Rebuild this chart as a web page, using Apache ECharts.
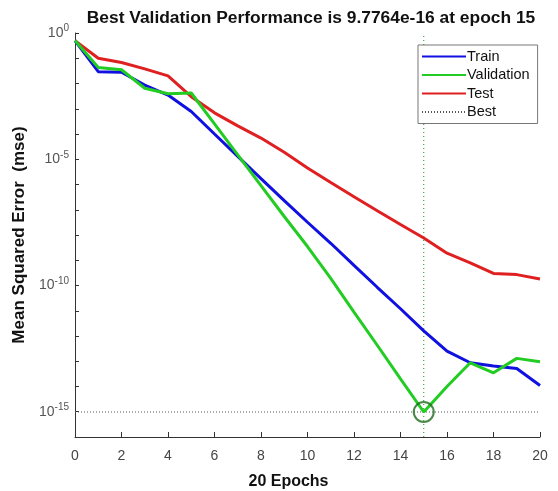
<!DOCTYPE html>
<html>
<head>
<meta charset="utf-8">
<script src="https://cdn.jsdelivr.net/npm/echarts@6/dist/echarts.min.js"></script>
<style>html,body{margin:0;padding:0;background:#fff;}#c{width:558px;height:491px;}</style>
</head>
<body>
<div id="c"></div>
<script>
const epochs = [0,1,2,3,4,5,6,7,8,9,10,11,12,13,14,15,16,17,18,19,20];
const train = [0.5,2.95e-2,2.8e-2,8.7e-3,3.5e-3,7.8e-4,1.0e-4,1.3e-5,1.7e-6,2.3e-7,3.2e-8,4.7e-9,6.3e-10,8.5e-11,1.2e-11,1.6e-12,2.5e-13,8.7e-14,6.5e-14,5.2e-14,1.1e-14];
const validation = [0.5,4.3e-2,3.5e-2,6.5e-3,3.9e-3,4.2e-3,2.5e-4,1.5e-5,9.1e-7,5.4e-8,3.5e-9,1.9e-10,8.9e-12,4.3e-13,2.0e-14,9.7764e-16,1.0e-14,8.7e-14,3.5e-14,1.3e-13,9.5e-14];
const test = [0.5,1.0e-1,6.8e-2,3.8e-2,2.0e-2,3.0e-3,6.9e-4,2.1e-4,6.9e-5,1.9e-5,4.5e-6,1.2e-6,3.3e-7,9.1e-8,2.6e-8,7.6e-9,1.9e-9,7.9e-10,3.0e-10,2.7e-10,1.8e-10];
const bestEpoch = 15;
const bestValue = 9.7764e-16;
const xTicks = [0,2,4,6,8,10,12,14,16,18,20];
const yLabelExps = [0,-5,-10,-15];

const pair = arr => epochs.map((e,i)=>[e,arr[i]]);
const FONT = 'Liberation Sans, Arial, sans-serif';
const chart = echarts.init(document.getElementById('c'));
chart.setOption({
  animation:false,
  backgroundColor:'#fff',
  title:{text:'Best Validation Performance is 9.7764e-16 at epoch 15',left:306,top:5,textAlign:'center',
    textStyle:{fontFamily:FONT,fontWeight:'bold',fontSize:17.4,color:'#111'}},
  grid:{left:75,right:18,top:33,bottom:54,outerBoundsMode:'none',containLabel:false},
  legend:{orient:'vertical',left:418,top:45,data:['Train','Validation','Test','Best'],
    itemWidth:44,itemHeight:12,itemGap:3.5,padding:[4,8,4,3],
    borderColor:'#777',borderWidth:1,backgroundColor:'#fff',
    itemStyle:{opacity:0},
    textStyle:{fontFamily:FONT,fontSize:14.5,color:'#111',padding:[0,0,0,-4]}},
  xAxis:{type:'value',min:0,max:20,interval:2,
    name:'20 Epochs',nameLocation:'middle',nameGap:37,
    nameTextStyle:{fontFamily:FONT,fontWeight:'bold',fontSize:16,color:'#111',padding:[0,38,0,0]},
    axisLine:{lineStyle:{color:'#333',width:1}},
    axisTick:{inside:true,length:5,lineStyle:{color:'#333'}},
    axisLabel:{fontFamily:FONT,fontSize:14,color:'#444',margin:12,
      formatter:v=>xTicks.includes(v)?String(v):''},
    splitLine:{show:false}},
  yAxis:{type:'log',logBase:10,min:1e-16,max:1,interval:1,
    name:'Mean Squared Error  (mse)',nameLocation:'middle',nameGap:36,
    nameTextStyle:{fontFamily:FONT,fontWeight:'bold',fontSize:17,color:'#111'},
    axisLine:{show:true,lineStyle:{color:'#333',width:1}},
    axisTick:{show:true,inside:true,length:4,interval:0,lineStyle:{color:'#333'}},
    axisLabel:{fontFamily:FONT,fontSize:14,color:'#555',margin:6,interval:0,
      formatter:v=>{const e=Math.round(Math.log10(v));return yLabelExps.includes(e)?'10{sup|'+e+'}':'';},
      rich:{sup:{fontFamily:FONT,fontSize:10,color:'#555',verticalAlign:'top',padding:[0,0,9,0]}}},
    splitLine:{show:false}},
  series:[
    {name:'Train',type:'line',data:pair(train),showSymbol:false,symbol:'none',lineStyle:{color:'#1010e0',width:3},itemStyle:{color:'#1010e0'},z:3},
    {name:'Validation',type:'line',data:pair(validation),showSymbol:false,symbol:'none',lineStyle:{color:'#22cc22',width:3},itemStyle:{color:'#22cc22'},z:4},
    {name:'Test',type:'line',data:pair(test),showSymbol:false,symbol:'none',lineStyle:{color:'#e02020',width:3},itemStyle:{color:'#e02020'},z:2},
    {name:'Best',type:'line',data:[[0,bestValue],[20,bestValue]],showSymbol:false,symbol:'none',
      lineStyle:{color:'#555',width:1,type:[1,2]},itemStyle:{color:'#555'},z:1},
    {name:'BestV',type:'line',data:[[bestEpoch,1e-16],[bestEpoch,1]],showSymbol:false,symbol:'none',
      lineStyle:{color:'#228822',width:1,type:[1,3]},z:1},
    {name:'BestPt',type:'scatter',data:[[bestEpoch,bestValue]],symbol:'circle',symbolSize:20,
      itemStyle:{color:'rgba(0,0,0,0)',borderColor:'#1d6b1d',borderWidth:2},z:5}
  ]
});
</script>
</body>
</html>
